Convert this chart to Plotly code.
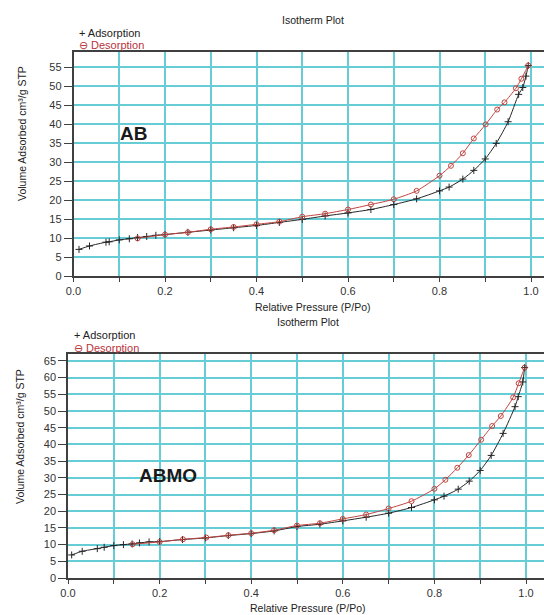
import plotly.graph_objects as go

# ---------------- data ----------------
ab_ads_x = [0.012, 0.035, 0.071, 0.078, 0.10, 0.122, 0.14, 0.16, 0.18, 0.20, 0.25, 0.30, 0.35, 0.40,
            0.45, 0.50, 0.55, 0.60, 0.65, 0.70, 0.75, 0.80, 0.821, 0.851, 0.875, 0.90, 0.924, 0.95,
            0.973, 0.982, 0.989, 0.994]
ab_ads_y = [7.0, 7.9, 8.9, 9.0, 9.5, 9.8, 10.1, 10.4, 10.7, 10.9, 11.5, 12.1, 12.7, 13.3,
            14.1, 14.9, 15.8, 16.6, 17.5, 18.8, 20.3, 22.4, 23.4, 25.5, 27.8, 30.8, 34.9, 40.6,
            47.8, 49.6, 52.6, 55.4]
ab_des_x = [0.994, 0.979, 0.967, 0.942, 0.926, 0.901, 0.875, 0.851, 0.825, 0.80, 0.75, 0.70,
            0.65, 0.60, 0.55, 0.50, 0.45, 0.40, 0.35, 0.30, 0.25, 0.20, 0.14]
ab_des_y = [55.4, 51.9, 49.4, 45.7, 43.8, 39.9, 36.2, 32.3, 29.0, 26.4, 22.4, 20.2,
            18.8, 17.5, 16.4, 15.6, 14.3, 13.6, 12.9, 12.3, 11.5, 10.9, 9.9]

abmo_ads_x = [0.008, 0.031, 0.064, 0.079, 0.10, 0.121, 0.14, 0.156, 0.177, 0.20, 0.25, 0.30, 0.35,
              0.40, 0.45, 0.50, 0.55, 0.60, 0.651, 0.70, 0.75, 0.80, 0.821, 0.852, 0.876, 0.90,
              0.924, 0.95, 0.976, 0.983, 0.993, 0.997]
abmo_ads_y = [6.9, 8.0, 8.8, 9.2, 9.7, 10.0, 10.2, 10.5, 10.8, 10.9, 11.5, 12.0, 12.7,
              13.3, 14.1, 15.4, 16.1, 17.1, 18.2, 19.4, 21.1, 23.4, 24.5, 26.6, 29.0, 32.2,
              36.7, 43.3, 51.3, 54.3, 58.7, 63.0]
abmo_des_x = [0.997, 0.984, 0.972, 0.945, 0.926, 0.902, 0.875, 0.85, 0.824, 0.80, 0.75, 0.70,
              0.651, 0.60, 0.55, 0.50, 0.45, 0.40, 0.35, 0.302, 0.251, 0.20, 0.141]
abmo_des_y = [63.0, 58.3, 54.1, 48.5, 45.5, 41.4, 36.8, 33.0, 29.4, 26.7, 23.0, 20.8,
              19.0, 17.7, 16.4, 15.7, 14.3, 13.4, 12.8, 12.1, 11.6, 10.8, 10.1]

x_ticks = [0.0, 0.2, 0.4, 0.6, 0.8, 1.0]
x_tick_labels = ["0.0", "0.2", "0.4", "0.6", "0.8", "1.0"]
ab_y_ticks = list(range(0, 60, 5))
abmo_y_ticks = list(range(0, 70, 5))

# ---------------- style ----------------
W, H = 544, 615
FONT = "Arial, Liberation Sans, sans-serif"
ADS_COL = "#262626"
DES_COL = "#C0443F"
GRID = "#66CCD6"
AXC = "#404040"

fig = go.Figure()

def add_pair(ax, ay, dx, dy, xa, ya):
    fig.add_trace(go.Scatter(x=ax, y=ay, mode="lines+markers", xaxis=xa, yaxis=ya,
                             line=dict(color=ADS_COL, width=1, shape="spline", smoothing=0.6),
                             marker=dict(symbol="cross-thin", size=5, line=dict(color=ADS_COL, width=1)),
                             showlegend=False))
    fig.add_trace(go.Scatter(x=dx, y=dy, mode="lines+markers", xaxis=xa, yaxis=ya,
                             line=dict(color=DES_COL, width=1, shape="spline", smoothing=0.6),
                             marker=dict(symbol="circle-open", size=5, line=dict(color=DES_COL, width=1)),
                             showlegend=False))

add_pair(ab_ads_x, ab_ads_y, ab_des_x, ab_des_y, "x", "y")
add_pair(abmo_ads_x, abmo_ads_y, abmo_des_x, abmo_des_y, "x2", "y2")

def px_x(p):
    return p / W

def px_y(p):
    return 1 - p / H

def xaxis(dom_left_px, rng_max, anchor):
    return dict(domain=[px_x(dom_left_px), 1], range=[0, rng_max], anchor=anchor, automargin=False,
                tickvals=x_ticks, ticktext=x_tick_labels, ticks="outside", ticklen=4,
                tickcolor=AXC, tickwidth=1,
                minor=dict(dtick=0.1, tick0=0, ticks="outside", ticklen=4, tickcolor=AXC,
                           showgrid=True, gridcolor=GRID, gridwidth=1.5),
                showgrid=True, gridcolor=GRID, gridwidth=1.5, zeroline=False,
                showline=True, linecolor=AXC, linewidth=1.5, mirror=True,
                tickfont=dict(family=FONT, size=11, color="#333333"))

def yaxis(bot_px, top_px, rng_max, ticks, anchor):
    return dict(domain=[px_y(bot_px), px_y(top_px)], range=[0, rng_max], anchor=anchor, automargin=False,
                tickvals=ticks, ticks="outside", ticklen=8, tickcolor=AXC, tickwidth=1,
                showgrid=True, gridcolor=GRID, gridwidth=1.5, zeroline=False,
                showline=True, linecolor=AXC, linewidth=1.5,
                tickfont=dict(family=FONT, size=11, color="#333333"))

fig.update_layout(
    width=W, height=H,
    margin=dict(l=0, r=0, t=0, b=0, autoexpand=False),
    paper_bgcolor="white", plot_bgcolor="white",
    xaxis=xaxis(73.5, (W - 73.5) / 457.5, "y"),
    yaxis=yaxis(276, 52, (276 - 52) / 3.8, ab_y_ticks, "x"),
    xaxis2=xaxis(68, (W - 68) / 458.0, "y2"),
    yaxis2=yaxis(578, 354, (578 - 354) / 3.34, abmo_y_ticks, "x2"),
    showlegend=False,
)

def note(text, xp, yp, size=10.5, color="#222222", bold=False, angle=0, xanchor="center"):
    fig.add_annotation(text=("<b>%s</b>" % text) if bold else text,
                       x=px_x(xp), y=px_y(yp), xref="paper", yref="paper",
                       xanchor=xanchor, yanchor="middle", showarrow=False, textangle=angle,
                       font=dict(family=FONT, size=size, color=color))

# titles
note("Isotherm Plot", 313, 20)
note("Isotherm Plot", 308, 322)
# axis titles
note("Relative Pressure (P/Po)", 313, 307)
note("Relative Pressure (P/Po)", 308, 608)
note("Volume Adsorbed cm³/g STP", 22, 134, angle=-90)
note("Volume Adsorbed cm³/g STP", 20, 437, angle=-90)
# legends
note("+ Adsorption", 77, 33, size=11, color="#222222", xanchor="left")
note("⊖ Desorption", 77, 45, size=11, color="#B8333A", xanchor="left")
note("+ Adsorption", 72, 335, size=11, color="#222222", xanchor="left")
note("⊖ Desorption", 72, 348, size=11, color="#B8333A", xanchor="left")
# sample labels
note("AB", 133, 133, size=19, color="#1a1a1a", bold=True)
note("ABMO", 168, 476, size=19, color="#1a1a1a", bold=True)

fig.write_html("out.html", config={"displayModeBar": False},
               post_script="document.body.style.margin='0px';document.body.style.padding='0px';"
                           "document.documentElement.style.overflow='hidden';")
